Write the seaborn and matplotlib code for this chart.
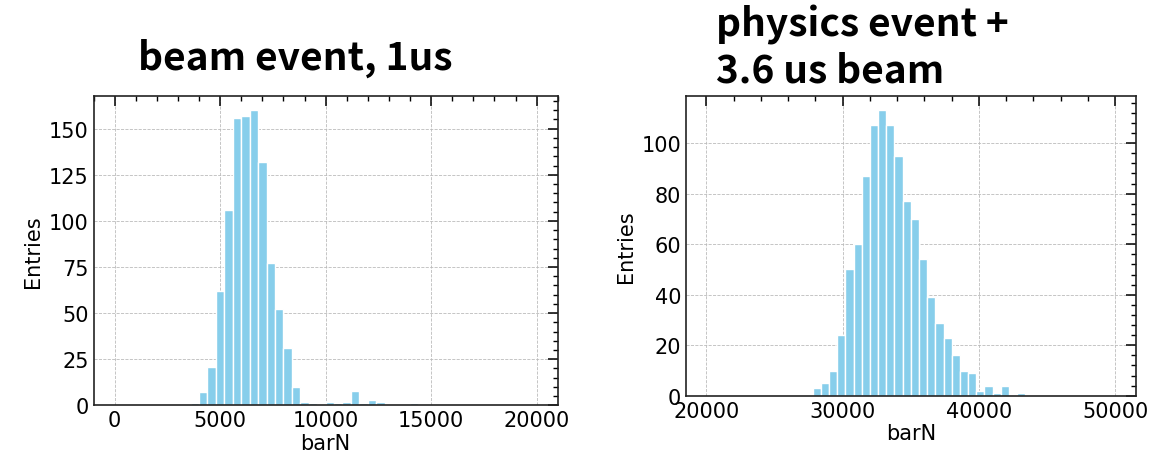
import numpy as np
import pandas as pd
import matplotlib
matplotlib.use("Agg")
import matplotlib.pyplot as plt
from matplotlib.ticker import AutoMinorLocator, MultipleLocator
import seaborn as sns

# ---- data (pre-binned histogram counts) ----
# left: beam event, 1us  -- 50 bins over 0..20000 (width 400)
left_bin_starts = [3600, 4000, 4400, 4800, 5200, 5600, 6000, 6400, 6800, 7200,
                   7600, 8000, 8400, 8800, 9200, 10000, 10400, 10800, 11200,
                   11600, 12000, 12400, 14000]
left_counts = [1, 7, 21, 62, 106, 156, 157, 160, 132, 77,
               52, 31, 10, 2, 1, 2, 1, 2, 8,
               1, 3, 2, 1]
left_range = (0, 20000)

# right: physics event + 3.6 us beam -- 50 bins over 20000..50000 (width 600)
right_bin_starts = [27800, 28400, 29000, 29600, 30200, 30800, 31400, 32000,
                    32600, 33200, 33800, 34400, 35000, 35600, 36200, 36800,
                    37400, 38000, 38600, 39200, 39800, 40400, 41000, 41600,
                    42800]
right_counts = [3, 5, 10, 24, 50, 60, 87, 107,
                113, 107, 95, 77, 70, 54, 39, 29,
                23, 16, 10, 9, 2, 4, 1, 4,
                1]
right_range = (20000, 50000)
n_bins = 50

left_title = "beam event, 1us"
right_title_lines = ["physics event +", "3.6 us beam"]
xlabel = "barN"
ylabel = "Entries"

sns.set_style("white")
plt.rcParams["font.family"] = ["DejaVu Sans"]
plt.rcParams["text.color"] = "black"
plt.rcParams["axes.labelcolor"] = "black"
plt.rcParams["xtick.color"] = "black"
plt.rcParams["ytick.color"] = "black"

W, H = 1150, 456
fig = plt.figure(figsize=(W / 100, H / 100), dpi=100)

def px_axes(x0, x1, ytop, ybot):
    return [x0 / W, 1 - ybot / H, (x1 - x0) / W, (ybot - ytop) / H]

ax1 = fig.add_axes(px_axes(93.5, 557.7, 96.5, 406.3))
ax2 = fig.add_axes(px_axes(686.0, 1135.7, 97.0, 396.8))

def draw(ax, starts, counts, rng, major_x, major_y):
    width = (rng[1] - rng[0]) / n_bins
    df = pd.DataFrame({"x": np.array(starts) + width / 2, "w": counts})
    sns.histplot(data=df, x="x", weights="w", bins=n_bins, binrange=rng,
                 color="#87CEEB", edgecolor="white", linewidth=1.0,
                 alpha=1.0, ax=ax)
    ax.set_xlabel(xlabel, fontsize=15, labelpad=2, color="black")
    ax.set_ylabel(ylabel, fontsize=15, color="black")
    ax.xaxis.set_major_locator(MultipleLocator(major_x))
    ax.yaxis.set_major_locator(MultipleLocator(major_y))
    ax.xaxis.set_minor_locator(AutoMinorLocator(5))
    ax.yaxis.set_minor_locator(AutoMinorLocator(5))
    ax.tick_params(which="both", direction="in", top=True, right=True,
                   labelsize=15, color="black", labelcolor="black")
    ax.tick_params(which="major", length=7, width=1.1)
    ax.tick_params(which="minor", length=3.5, width=1.0)
    ax.grid(True, which="major", linestyle="--", linewidth=0.6,
            color="#bbbbbb")
    ax.set_axisbelow(True)
    for s in ax.spines.values():
        s.set_linewidth(1.2)
        s.set_color("#222222")

draw(ax1, left_bin_starts, left_counts, left_range, 5000, 25)
draw(ax2, right_bin_starts, right_counts, right_range, 10000, 20)

title_font = ["Noto Sans CJK SC", "DejaVu Sans"]
fig.text(138 / W, 1 - 70 / H, left_title, ha="left", va="baseline",
         fontsize=28, fontweight="bold", family=title_font, color="black")
fig.text(716 / W, 1 - 36.7 / H, right_title_lines[0], ha="left",
         va="baseline", fontsize=28, fontweight="bold", family=title_font,
         color="black")
fig.text(716 / W, 1 - 82.7 / H, right_title_lines[1], ha="left",
         va="baseline", fontsize=28, fontweight="bold", family=title_font,
         color="black")

fig.savefig("out.png", dpi=100)
